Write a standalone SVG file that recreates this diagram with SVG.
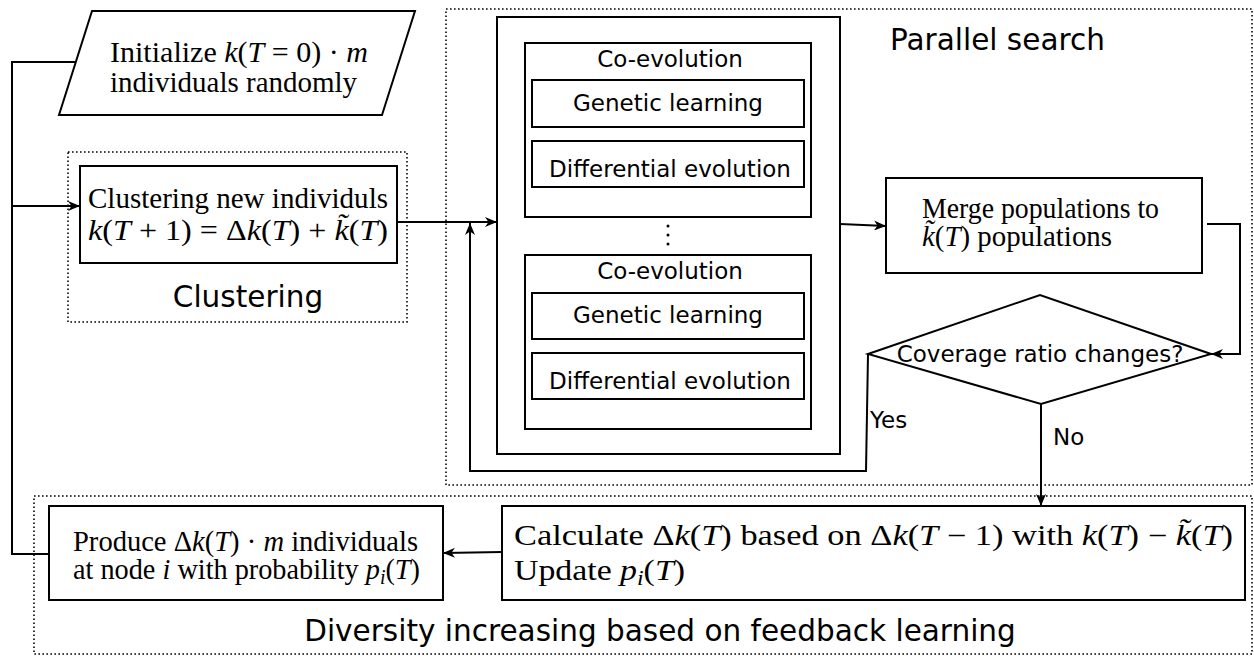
<svg xmlns="http://www.w3.org/2000/svg" width="1254" height="656" viewBox="0 0 1254 656">
<defs>
<marker id="arr" markerUnits="userSpaceOnUse" markerWidth="13" markerHeight="10" refX="12" refY="5" orient="auto">
<path d="M0,0 L12,5 L0,10 L3.5,5 Z" fill="#000"/>
</marker>
<style>
.box{fill:none;stroke:#000;stroke-width:2}
.dot{fill:none;stroke:#000;stroke-width:1.6;stroke-dasharray:1.6 2.4}
.con{fill:none;stroke:#000;stroke-width:2}
.sans{font-family:"DejaVu Sans",Verdana,sans-serif;fill:#000}
.big{font-size:29.5px}
.mid{font-size:23px}
.serif{font-family:"Liberation Serif","DejaVu Serif",serif;font-size:28.5px;fill:#000}
.it{font-style:italic}
</style>
</defs>
<rect width="1254" height="656" fill="#fff"/>

<g id="group-clustering">
<rect class="dot" x="68" y="152" width="339" height="170"/>
<text class="sans big" x="248" y="307" text-anchor="middle">Clustering</text>
</g>
<g id="group-parallel">
<rect class="dot" x="446" y="9" width="806" height="476"/>
<text class="sans big" x="890" y="50">Parallel search</text>
</g>
<g id="group-diversity">
<rect class="dot" x="34" y="496" width="1218" height="158"/>
<text class="sans big" x="660" y="641" text-anchor="middle">Diversity increasing based on feedback learning</text>
</g>

<g id="connectors">
<polyline class="con" points="76,62 12,62 12,554 49,554"/>
<line class="con" x1="12" y1="206" x2="80" y2="206" marker-end="url(#arr)"/>
<line class="con" x1="397" y1="222" x2="497" y2="222" marker-end="url(#arr)"/>
<polyline class="con" points="868,354 866,471 470,471 470,223" marker-end="url(#arr)"/>
<line class="con" x1="840" y1="224" x2="886" y2="226" marker-end="url(#arr)"/>
<polyline class="con" points="1207,224 1240,224 1240,354 1211,354" marker-end="url(#arr)"/>
<line class="con" x1="1041" y1="404" x2="1041" y2="506" marker-end="url(#arr)"/>
<line class="con" x1="502" y1="552" x2="443" y2="553" marker-end="url(#arr)"/>
<text class="sans mid" x="870" y="428">Yes</text>
<text class="sans mid" x="1053" y="445">No</text>
</g>

<g id="node-init">
<polygon class="box" points="92,11 415,11 382,115 59,115"/>
<text class="serif" x="110" y="62" textLength="258" lengthAdjust="spacingAndGlyphs">Initialize <tspan class="it">k</tspan>(<tspan class="it">T</tspan> = 0) · <tspan class="it">m</tspan></text>
<text class="serif" x="110" y="92" textLength="247" lengthAdjust="spacingAndGlyphs">individuals randomly</text>
</g>

<g id="node-cluster">
<rect class="box" x="80" y="166" width="317" height="97"/>
<text class="serif" x="88" y="208" textLength="300" lengthAdjust="spacingAndGlyphs">Clustering new individuls</text>
<text class="serif" x="88" y="240" textLength="300" lengthAdjust="spacingAndGlyphs"><tspan class="it">k</tspan>(<tspan class="it">T</tspan> + 1) = Δ<tspan class="it">k</tspan>(<tspan class="it">T</tspan>) + <tspan class="it">k̃</tspan>(<tspan class="it">T</tspan>)</text>
</g>

<g id="node-parallel">
<rect class="box" x="497" y="17" width="343" height="437"/>
</g>

<g id="node-coevo1">
<rect class="box" x="525" y="43" width="286" height="174"/>
<text class="sans mid" x="670" y="67" text-anchor="middle">Co-evolution</text>
<rect class="box" x="532" y="80" width="272" height="47"/>
<text class="sans mid" x="668" y="111" text-anchor="middle">Genetic learning</text>
<rect class="box" x="532" y="141" width="272" height="46"/>
<text class="sans mid" x="670" y="177" text-anchor="middle">Differential evolution</text>
</g>

<g id="vdots">
<circle cx="668" cy="226" r="1.5"/>
<circle cx="668" cy="235" r="1.5"/>
<circle cx="668" cy="244" r="1.5"/>
</g>

<g id="node-coevo2">
<rect class="box" x="525" y="255" width="286" height="174"/>
<text class="sans mid" x="670" y="279" text-anchor="middle">Co-evolution</text>
<rect class="box" x="532" y="293" width="272" height="46"/>
<text class="sans mid" x="668" y="323" text-anchor="middle">Genetic learning</text>
<rect class="box" x="532" y="353" width="272" height="46"/>
<text class="sans mid" x="670" y="389" text-anchor="middle">Differential evolution</text>
</g>

<g id="node-merge">
<rect class="box" x="886" y="178" width="316" height="95"/>
<text class="serif" x="922" y="218" textLength="237" lengthAdjust="spacingAndGlyphs">Merge populations to</text>
<text class="serif" x="922" y="246" textLength="190" lengthAdjust="spacingAndGlyphs"><tspan class="it">k̃</tspan>(<tspan class="it">T</tspan>) populations</text>
</g>

<g id="node-decision">
<polygon class="box" points="868,354 1040,295 1211,354 1041,404"/>
<text class="sans mid" x="1040" y="362" text-anchor="middle">Coverage ratio changes?</text>
</g>

<g id="node-produce">
<rect class="box" x="49" y="506" width="394" height="94"/>
<text class="serif" x="73" y="551" textLength="345" lengthAdjust="spacingAndGlyphs">Produce Δ<tspan class="it">k</tspan>(<tspan class="it">T</tspan>) · <tspan class="it">m</tspan> individuals</text>
<text class="serif" x="73" y="579" textLength="347" lengthAdjust="spacingAndGlyphs">at node <tspan class="it">i</tspan> with probability <tspan class="it">p</tspan><tspan class="it" font-size="20" dy="5">i</tspan><tspan dy="-5">(</tspan><tspan class="it">T</tspan>)</text>
</g>

<g id="node-calculate">
<rect class="box" x="502" y="506" width="743" height="94"/>
<text class="serif" x="514" y="545" textLength="719" lengthAdjust="spacingAndGlyphs">Calculate Δ<tspan class="it">k</tspan>(<tspan class="it">T</tspan>) based on Δ<tspan class="it">k</tspan>(<tspan class="it">T</tspan> − 1) with <tspan class="it">k</tspan>(<tspan class="it">T</tspan>) − <tspan class="it">k̃</tspan>(<tspan class="it">T</tspan>)</text>
<text class="serif" x="514" y="580" textLength="171" lengthAdjust="spacingAndGlyphs">Update <tspan class="it">p</tspan><tspan class="it" font-size="20" dy="5">i</tspan><tspan dy="-5">(</tspan><tspan class="it">T</tspan>)</text>
</g>
</svg>
